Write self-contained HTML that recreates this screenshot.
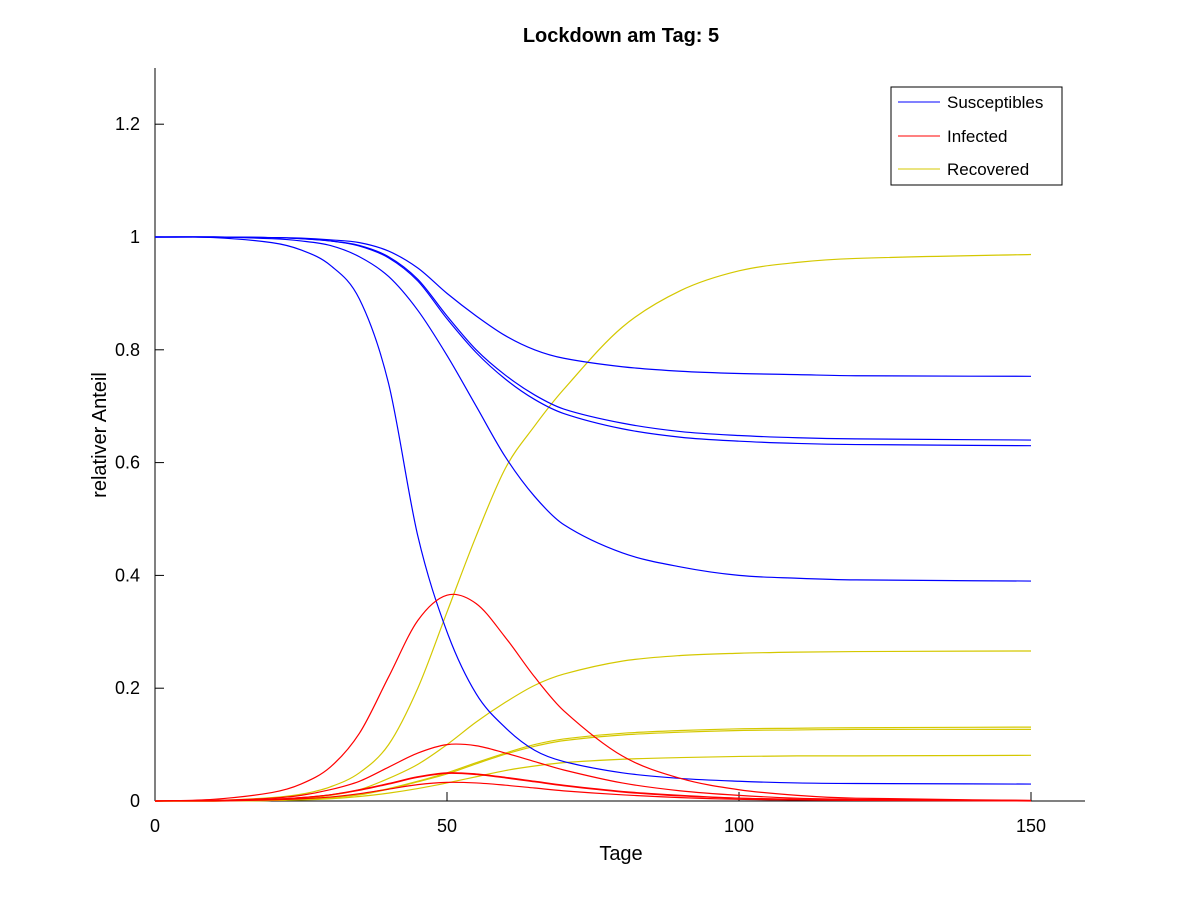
<!DOCTYPE html>
<html><head><meta charset="utf-8"><style>
body{margin:0;background:#fff;}
svg{display:block;font-family:"Liberation Sans",sans-serif;}
</style></head><body>
<svg id="chart" width="1200" height="900">
<rect width="1200" height="900" fill="#fff"/>
<text x="621" y="42" text-anchor="middle" font-size="20" font-weight="bold">Lockdown am Tag: 5</text>
<g id="axes"></g>
<g id="series"></g>
<text x="621" y="860" text-anchor="middle" font-size="20">Tage</text>
<text transform="translate(106,435) rotate(-90)" text-anchor="middle" font-size="20">relativer Anteil</text>
<g>
<rect x="891" y="87" width="171" height="98" fill="#fff" stroke="#000" stroke-width="1"/>
<line x1="898" y1="102" x2="940" y2="102" stroke="#0000ff"/>
<text x="947" y="108" font-size="17">Susceptibles</text>
<line x1="898" y1="136" x2="940" y2="136" stroke="#ff0000"/>
<text x="947" y="142" font-size="17">Infected</text>
<line x1="898" y1="169" x2="940" y2="169" stroke="#d4c800"/>
<text x="947" y="175" font-size="17">Recovered</text>
</g>
</svg>
<script>
const days=[0,10,20,25,30,35,40,45,50,55,60,65,70,80,90,100,110,120,150];
const S1=[1,0.999,0.99,0.977,0.95,0.89,0.74,0.47,0.30,0.19,0.13,0.09,0.07,0.05,0.04,0.035,0.032,0.031,0.03];
const S2=[1,1,0.997,0.993,0.985,0.965,0.93,0.87,0.79,0.70,0.61,0.54,0.49,0.44,0.415,0.40,0.395,0.392,0.39];
const S3=[1,1,0.999,0.997,0.993,0.985,0.965,0.925,0.86,0.80,0.755,0.72,0.695,0.67,0.655,0.648,0.644,0.642,0.64];
const S4=[1,1,0.999,0.997,0.993,0.984,0.963,0.922,0.855,0.795,0.748,0.712,0.687,0.66,0.645,0.638,0.634,0.632,0.63];
const S5=[1,1,0.999,0.998,0.995,0.99,0.975,0.945,0.9,0.86,0.825,0.80,0.785,0.77,0.762,0.758,0.756,0.754,0.753];
const I1=[0,0.003,0.015,0.03,0.06,0.12,0.22,0.32,0.365,0.35,0.29,0.22,0.16,0.08,0.04,0.02,0.01,0.005,0.001];
const I2=[0,0.001,0.005,0.01,0.02,0.035,0.06,0.085,0.10,0.098,0.085,0.07,0.055,0.032,0.018,0.01,0.005,0.003,0.001];
const I3=[0,0.001,0.003,0.006,0.011,0.02,0.031,0.043,0.05,0.048,0.042,0.035,0.028,0.017,0.01,0.005,0.003,0.002,0.0005];
const I4=[0,0.001,0.003,0.006,0.011,0.019,0.03,0.042,0.049,0.047,0.041,0.034,0.027,0.016,0.009,0.005,0.003,0.002,0.0005];
const I5=[0,0,0.002,0.004,0.007,0.013,0.021,0.029,0.033,0.032,0.028,0.023,0.018,0.011,0.006,0.003,0.002,0.001,0];
const R1=[0,0.001,0.006,0.012,0.025,0.05,0.1,0.2,0.335,0.47,0.59,0.665,0.73,0.84,0.905,0.94,0.955,0.962,0.969];
const R2=[0,0,0.002,0.004,0.01,0.02,0.04,0.065,0.1,0.14,0.175,0.205,0.225,0.248,0.258,0.262,0.264,0.265,0.266];
const R3=[0,0,0.001,0.003,0.006,0.012,0.022,0.035,0.05,0.068,0.085,0.1,0.11,0.12,0.125,0.128,0.129,0.13,0.131];
const R4=[0,0,0.001,0.003,0.006,0.011,0.021,0.034,0.048,0.066,0.083,0.097,0.107,0.117,0.122,0.125,0.126,0.127,0.127];
const R5=[0,0,0.001,0.002,0.004,0.008,0.014,0.022,0.032,0.043,0.054,0.062,0.068,0.074,0.077,0.079,0.08,0.08,0.081];
const xTicks=[0,50,100,150];
const yTicks=[0,0.2,0.4,0.6,0.8,1,1.2];

const NS="http://www.w3.org/2000/svg";
const X=d=>155+d*5.84;
const Y=v=>801-v*564;
const axes=document.getElementById('axes');
const ser=document.getElementById('series');
function mk(tag,attrs,parent){const e=document.createElementNS(NS,tag);for(const k in attrs)e.setAttribute(k,attrs[k]);parent.appendChild(e);return e;}
let xa=mk('line',{x1:155,y1:801,x2:1085,y2:801,stroke:'#000'},axes);


let ya=mk('line',{x1:155,y1:68,x2:155,y2:801,stroke:'#000'},axes);


xTicks.forEach(t=>{
  mk('line',{x1:X(t),y1:801,x2:X(t),y2:792,stroke:'#000'},axes);
  const tx=mk('text',{x:X(t),y:832,'text-anchor':'middle','font-size':18},axes);
  tx.textContent=t;
  
  
});
yTicks.forEach(t=>{
  mk('line',{x1:155,y1:Y(t),x2:164,y2:Y(t),stroke:'#000'},axes);
  const tx=mk('text',{x:140,y:Y(t)+6,'text-anchor':'end','font-size':18},axes);
  tx.textContent=String(t);
  
  
});
function path(vals){
  const n=days.length;
  const m=days.map((d,i)=>{
    const a=Math.max(i-1,0),b=Math.min(i+1,n-1);
    return (vals[b]-vals[a])/(days[b]-days[a]);
  });
  let s='M'+X(days[0])+','+Y(vals[0]);
  for(let i=0;i<n-1;i++){
    const h=days[i+1]-days[i];
    const c1x=X(days[i]+h/3),c1y=Y(vals[i]+m[i]*h/3);
    const c2x=X(days[i+1]-h/3),c2y=Y(vals[i+1]-m[i+1]*h/3);
    s+=' C'+c1x+','+c1y+' '+c2x+','+c2y+' '+X(days[i+1])+','+Y(vals[i+1]);
  }
  return s;
}
const groups=[
 ['#d4c800','recovered',[R1,R2,R3,R4,R5]],
 ['#0000ff','susceptibles',[S1,S2,S3,S4,S5]],
 ['#ff0000','infected',[I1,I2,I3,I4,I5]]
];
groups.forEach(([c,n,arr])=>arr.forEach((v,i)=>{
  const e=mk('path',{d:path(v),fill:'none',stroke:c,'stroke-width':1.2},ser);
  
  
}));
</script>
</body></html>
